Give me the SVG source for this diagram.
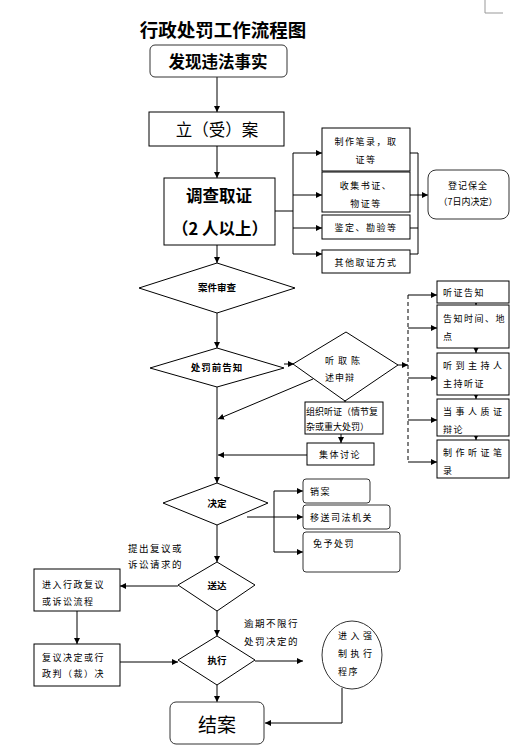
<svg xmlns="http://www.w3.org/2000/svg" width="525" height="751" viewBox="0 0 525 751">
<defs>
<marker id="ah" viewBox="0 0 10 10" refX="10" refY="5" markerWidth="6" markerHeight="6" orient="auto" markerUnits="userSpaceOnUse">
<path d="M0,0 L10,5 L0,10 z" fill="#000"/>
</marker>
</defs>
<style>
text{font-family:"Noto Sans CJK SC","Noto Sans",sans-serif;fill:#000;dominant-baseline:central}
.box{fill:#fff;stroke:#000;stroke-width:1}
.rbox{fill:#fff;stroke:#333;stroke-width:1}
.ln{fill:none;stroke:#000;stroke-width:1}
.arr{fill:none;stroke:#000;stroke-width:1;marker-end:url(#ah)}
.dash{fill:none;stroke:#000;stroke-width:1;stroke-dasharray:4,3}
.s{font-size:9px;letter-spacing:1.5px}
.sb{font-size:9.5px;font-weight:bold}
.c{text-anchor:middle}
</style>
<rect width="525" height="751" fill="#fff"/>
<polyline points="485,0 485,13 503,13" fill="none" stroke="#999" stroke-width="1"/>
<text x="223" y="29" class="c" style="font-size:18.5px;font-weight:bold">行政处罚工作流程图</text>

<g id="connectors">
<line class="arr" x1="217" y1="77" x2="217" y2="112"/>
<line class="arr" x1="217" y1="146" x2="217" y2="178"/>
<line class="ln" x1="275" y1="211" x2="293" y2="211"/>
<line class="ln" x1="293" y1="153" x2="293" y2="254"/>
<line class="arr" x1="293" y1="153" x2="322" y2="153"/>
<line class="arr" x1="293" y1="195" x2="322" y2="195"/>
<line class="arr" x1="293" y1="228" x2="322" y2="228"/>
<line class="arr" x1="293" y1="254" x2="322" y2="254"/>
<line class="ln" x1="410" y1="153" x2="418" y2="153"/>
<line class="ln" x1="410" y1="195" x2="418" y2="195"/>
<line class="ln" x1="410" y1="228" x2="418" y2="228"/>
<line class="ln" x1="410" y1="254" x2="418" y2="254"/>
<line class="ln" x1="418" y1="153" x2="418" y2="254"/>
<line class="arr" x1="418" y1="195" x2="428" y2="195"/>
<line class="arr" x1="217" y1="245" x2="217" y2="263"/>
<line class="arr" x1="217" y1="313" x2="217" y2="348"/>
<line class="arr" x1="284" y1="364" x2="294" y2="364"/>
<line class="ln" x1="217" y1="387" x2="217" y2="420"/>
<line class="arr" x1="217" y1="420" x2="217" y2="483"/>
<line class="arr" x1="313" y1="379" x2="218" y2="419"/>
<line class="arr" x1="345" y1="395" x2="345" y2="402"/>
<line class="arr" x1="341" y1="434" x2="341" y2="443"/>
<line class="arr" x1="307" y1="455" x2="218" y2="455"/>
<line class="arr" x1="398" y1="365" x2="408" y2="365"/>
<line class="dash" x1="408" y1="295" x2="408" y2="462"/>
<line class="arr" x1="408" y1="295" x2="437" y2="295"/>
<line class="arr" x1="408" y1="328" x2="437" y2="328"/>
<line class="arr" x1="408" y1="378" x2="437" y2="378"/>
<line class="arr" x1="408" y1="420" x2="437" y2="420"/>
<line class="arr" x1="408" y1="462" x2="437" y2="462"/>
<line class="arr" x1="476" y1="300" x2="476" y2="305"/>
<line class="arr" x1="476" y1="345" x2="476" y2="353"/>
<line class="arr" x1="476" y1="393" x2="476" y2="399"/>
<line class="arr" x1="476" y1="434" x2="476" y2="440"/>
<line class="ln" x1="274" y1="491" x2="274" y2="552"/>
<line class="arr" x1="274" y1="491" x2="303" y2="491"/>
<line class="arr" x1="247" y1="517" x2="303" y2="517"/>
<line class="arr" x1="274" y1="552" x2="303" y2="552"/>
<line class="arr" x1="217" y1="525" x2="217" y2="562"/>
<line class="arr" x1="178" y1="586" x2="120" y2="586"/>
<line class="arr" x1="77" y1="611" x2="77" y2="644"/>
<line class="arr" x1="120" y1="662" x2="178" y2="662"/>
<line class="arr" x1="217" y1="611" x2="217" y2="636"/>
<line class="arr" x1="255" y1="661" x2="303" y2="661"/>
<line class="arr" x1="217" y1="685" x2="217" y2="702"/>
<polyline class="arr" points="342,688 342,723 265,723"/>
</g>

<g id="n1"><rect class="rbox" x="150" y="45" width="137" height="32" rx="5"/><text x="218" y="61" class="c" style="font-size:16.5px;font-weight:bold">发现违法事实</text></g>
<g id="n2"><rect class="box" x="149" y="112" width="135" height="34"/><text x="217" y="129" class="c" style="font-size:16.5px">立（受）案</text></g>
<g id="n3"><rect class="box" x="164" y="178" width="111" height="67"/><text x="219" y="195" class="c" style="font-size:16.5px;font-weight:bold">调查取证</text><text x="220" y="228" class="c" style="font-size:16.5px;font-weight:bold">（2 人以上）</text></g>
<g id="e1"><rect class="box" x="322" y="128" width="88" height="43"/><text x="366" y="141" class="c s">制作笔录，取</text><text x="366" y="159" class="c s">证等</text></g>
<g id="e2"><rect class="box" x="322" y="172" width="88" height="40"/><text x="366" y="185" class="c s">收集书证、</text><text x="366" y="203" class="c s">物证等</text></g>
<g id="e3"><rect class="box" x="322" y="215" width="88" height="24"/><text x="366" y="227" class="c s">鉴定、勘验等</text></g>
<g id="e4"><rect class="box" x="322" y="250" width="88" height="23"/><text x="366" y="262" class="c s">其他取证方式</text></g>
<g id="save"><rect class="rbox" x="428" y="170" width="81" height="49" rx="8"/><text x="468" y="185" class="c" style="font-size:9px;letter-spacing:1px">登记保全</text><text x="468" y="201" class="c" style="font-size:9px">（7日内决定）</text></g>
<g id="d1"><polygon class="box" points="217,263 295,288 217,313 139,288"/><text x="217" y="287" class="c sb">案件审查</text></g>
<g id="d2"><polygon class="box" points="217,348 284,368 217,387 150,368"/><text x="217" y="367" class="c sb" style="letter-spacing:1px">处罚前告知</text></g>
<g id="d3"><polygon class="box" points="346,332 398,365 345,401 293,364"/><text x="325" y="360" class="s" style="letter-spacing:4px">听取陈</text><text x="325" y="377" class="s" style="letter-spacing:1px">述申辩</text></g>
<g id="org"><rect class="box" x="305" y="402" width="78" height="32"/><text x="306" y="411" style="font-size:9px">组织听证（情节复</text><text x="306" y="426" style="font-size:9px">杂或重大处罚）</text></g>
<g id="disc"><rect class="box" x="307" y="443" width="67" height="22"/><text x="340" y="454" class="c s">集体讨论</text></g>
<g id="h1"><rect class="box" x="437" y="281" width="72" height="22"/><text x="443" y="292" class="s">听证告知</text></g>
<g id="h2"><rect class="box" x="437" y="305" width="72" height="43"/><text x="443" y="318" class="s">告知时间、地</text><text x="443" y="336" class="s">点</text></g>
<g id="h3"><rect class="box" x="437" y="353" width="72" height="42"/><text x="443" y="365" class="s" style="letter-spacing:3.5px">听到主持人</text><text x="443" y="383" class="s">主持听证</text></g>
<g id="h4"><rect class="box" x="437" y="399" width="72" height="37"/><text x="443" y="411" class="s" style="letter-spacing:3.5px">当事人质证</text><text x="443" y="429" class="s">辩论</text></g>
<g id="h5"><rect class="box" x="437" y="440" width="72" height="38"/><text x="443" y="452" class="s" style="letter-spacing:3.5px">制作听证笔</text><text x="443" y="470" class="s">录</text></g>
<g id="d4"><polygon class="box" points="217,483 268,503 217,525 163,503"/><text x="217" y="503" class="c sb">决定</text></g>
<g id="r1"><rect class="rbox" x="303" y="479" width="67" height="24" rx="3"/><text x="310" y="491" class="s">销案</text></g>
<g id="r2"><rect class="rbox" x="303" y="505" width="87" height="24" rx="3"/><text x="310" y="517" class="s">移送司法机关</text></g>
<g id="r3"><rect class="rbox" x="303" y="532" width="97" height="40" rx="3"/><text x="313" y="543" class="s">免予处罚</text></g>
<g id="d5"><polygon class="box" points="217,562 255,585 217,611 178,585"/><text x="217" y="585" class="c sb">送达</text></g>
<text x="128" y="548" class="s" style="font-size:9.5px">提出复议或</text>
<text x="128" y="564" class="s" style="font-size:9.5px">诉讼请求的</text>
<g id="rev"><rect class="box" x="34" y="569" width="86" height="42"/><text x="42" y="584" class="s">进入行政复议</text><text x="42" y="601" class="s">或诉讼流程</text></g>
<g id="revd"><rect class="box" x="34" y="644" width="86" height="42"/><text x="42" y="657" class="s">复议决定或行</text><text x="42" y="673" class="s">政判（裁）决</text></g>
<g id="d6"><polygon class="box" points="217,636 255,660 217,685 178,660"/><text x="217" y="660" class="c sb">执行</text></g>
<text x="244" y="623" class="s" style="font-size:9.5px">逾期不限行</text>
<text x="244" y="641" class="s" style="font-size:9.5px">处罚决定的</text>
<g id="force"><ellipse class="rbox" cx="352" cy="655" rx="30" ry="34"/><text x="338" y="635" class="s" style="letter-spacing:3.5px">进入强</text><text x="338" y="653" class="s" style="letter-spacing:3.5px">制执行</text><text x="338" y="671" class="s">程序</text></g>
<g id="end"><rect class="rbox" x="170" y="702" width="94" height="42" rx="6"/><text x="217" y="723" class="c" style="font-size:19px">结案</text></g>
</svg>
